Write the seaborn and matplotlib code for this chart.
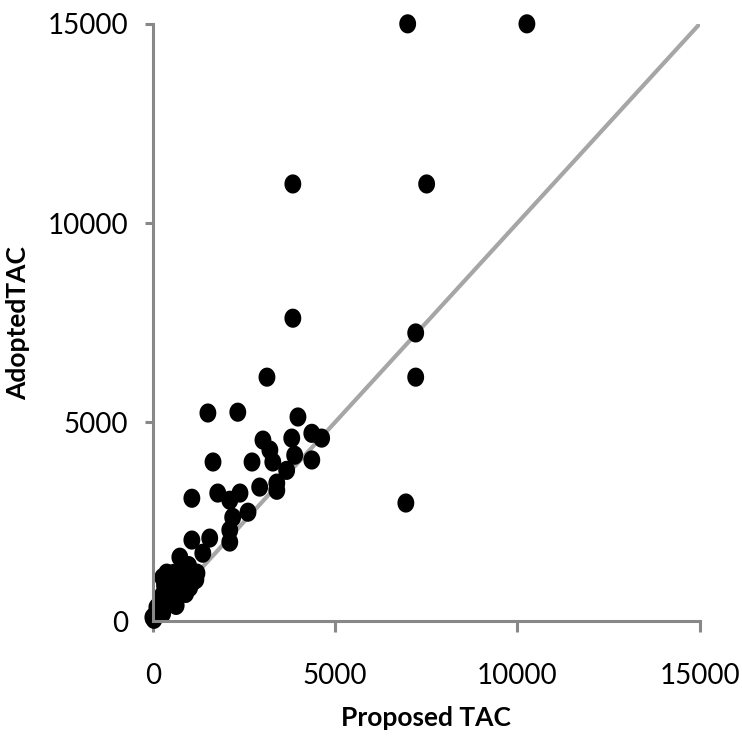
import numpy as np
import pandas as pd
import matplotlib
matplotlib.use("Agg")
import matplotlib.pyplot as plt
import matplotlib.path as mpath
import seaborn as sns

# values
proposed_tac = [
    6990, 10260, 3840, 7510, 3840, 7210, 7210, 3130, 1510, 2330, 3980, 6940,
    1650, 2720, 3020, 3210, 3290, 3810, 4360, 4630, 4360, 3890, 3670, 3400,
    3400, 2930, 1070, 1780, 2110, 2390, 2610, 2190, 2110, 2110, 1070, 1560,
    1370, 740, 380, 1210, 820, 470, 190, 0, 270, 660, 1010, 270, 550, 110,
    900, 1100, 600, 350, 150, 60, 30, 200, 420, 520, 700, 820, 560, 320, 980,
    900, 1180, 640, 260, 120, 450,
]
adopted_tac = [
    15000, 15000, 10980, 10980, 7610, 7240, 6130, 6130, 5230, 5250, 5130, 2970,
    4000, 4000, 4550, 4300, 4000, 4600, 4720, 4600, 4050, 4170, 3790, 3470,
    3290, 3370, 3090, 3220, 3040, 3220, 2740, 2610, 2290, 1990, 2040, 2090,
    1710, 1610, 1210, 1210, 950, 780, 450, 100, 200, 600, 850, 1100, 850, 350,
    1300, 1000, 1000, 600, 250, 150, 50, 350, 550, 700, 1000, 1300, 1200, 900,
    1400, 700, 1050, 400, 650, 250, 950,
]
line_ends = [0, 15000]
ticks = [0, 5000, 10000, 15000]

df = pd.DataFrame({"Proposed TAC": proposed_tac, "Adopted TAC": adopted_tac})

# slightly tall dots, like the original
theta = np.linspace(0, 2 * np.pi, 60)
dot = mpath.Path(np.column_stack([0.88 * np.cos(theta), np.sin(theta)]))

sns.set_style("white")
plt.rcParams["font.family"] = ["Lato", "DejaVu Sans"]

fig = plt.figure(figsize=(7.42, 7.45), dpi=100)
ax = fig.add_axes([0.206, 0.166, 0.737, 0.802])

ax.plot(line_ends, line_ends, color="#a6a6a6", linewidth=3, zorder=1,
        solid_capstyle="butt")
sns.scatterplot(data=df, x="Proposed TAC", y="Adopted TAC", ax=ax,
                color="black", marker=dot, s=190, edgecolor="none",
                linewidth=0, zorder=2, clip_on=False)

ax.set_xlim(0, 15000)
ax.set_ylim(0, 15000)
ax.set_xticks(ticks)
ax.set_yticks(ticks)
ax.set_xticklabels([str(t) for t in ticks])
ax.set_yticklabels([str(t) for t in ticks])

for side in ["top", "right"]:
    ax.spines[side].set_visible(False)
for side in ["left", "bottom"]:
    ax.spines[side].set_color("#888888")
    ax.spines[side].set_linewidth(2.2)

ax.tick_params(axis="x", direction="out", length=8, width=2.2, color="#888888",
               pad=22, labelsize=20, labelcolor="black")
ax.tick_params(axis="y", direction="out", length=6, width=2.2, color="#888888",
               pad=12, labelsize=20, labelcolor="black")
ax.tick_params(bottom=True, left=True)

ax.set_xlabel("Proposed TAC", fontsize=19, fontweight="bold", labelpad=12,
              color="black")
ax.set_ylabel("AdoptedTAC", fontsize=19, fontweight="bold", labelpad=12,
              color="black")

fig.savefig("out.png", dpi=100)
